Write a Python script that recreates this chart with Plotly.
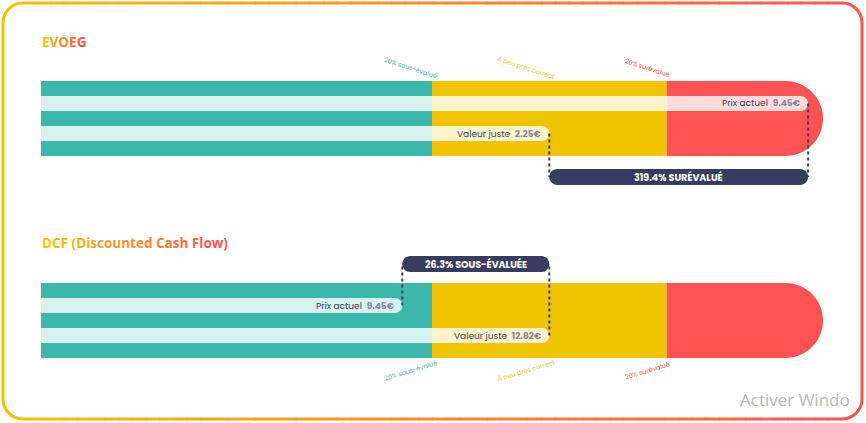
import plotly.graph_objects as go

W, H = 866, 423

# ---------------- data ----------------
chart_titles = ["EVOEG", "DCF (Discounted Cash Flow)"]
price_values = [9.45, 9.45]
fair_values = [2.25, 12.82]
gap_pct = [319.4, 26.3]
gap_words = ["SURÉVALUÉ", "SOUS-ÉVALUÉE"]
price_pos = [98.1, 46.2]     # position of current price on the gauge (0-100)
fair_pos = [65.0, 65.0]      # position of fair value on the gauge (0-100)
zone_edges = [0, 50, 80, 100]
zone_names = ["20% sous-évalué", "À peu près correct", "20% surévalué"]
zone_label_x = [47.2, 62.0, 77.5]

# ---------------- style ----------------
TEAL, YELLOW, RED = "#3BB7AB", "#F0C400", "#FF5252"
ZONE_COLORS = [TEAL, YELLOW, RED]
ZONE_TEXT = ["#3BB7AB", "#F2C53A", "#FF5252"]
NAVY = "#383C62"
LIGHT = "rgba(255,255,255,0.8)"
FONT = "Poppins, Inter, sans-serif"
K = 0.5523

X0, X1 = 41, 823            # gauge pixel extent
PXU = (X1 - X0) / 100.0     # pixels per x unit
PYU = 15.0                  # pixels per stripe unit

fig = go.Figure()

panels = [
    dict(bar_top=81, yr=(7.3, -1.8)),
    dict(bar_top=283, yr=(6.8, -2.2)),
]

def ygrad(t):
    a = (242, 195, 0)
    b = (255, 82, 82)
    return "rgb(%d,%d,%d)" % tuple(round(a[i] + (b[i] - a[i]) * t) for i in range(3))

for i, p in enumerate(panels):
    xa = "xaxis" if i == 0 else "xaxis2"
    ya = "yaxis" if i == 0 else "yaxis2"
    xr = "x" if i == 0 else "x2"
    yr = "y" if i == 0 else "y2"
    lo, hi = p["yr"]
    top_px = p["bar_top"] + hi * PYU
    bot_px = p["bar_top"] + lo * PYU
    fig.update_layout(**{
        xa: dict(domain=[X0 / W, X1 / W], range=[0, 100], visible=False, fixedrange=True),
        ya: dict(domain=[1 - bot_px / H, 1 - top_px / H], range=[lo, hi], visible=False,
                 fixedrange=True),
    })
    fig.add_trace(go.Scatter(x=[0], y=[0], mode="markers", marker=dict(opacity=0),
                             hoverinfo="skip", showlegend=False, xaxis=xr, yaxis=yr))

    # zones
    rx, ry = 37.5 / PXU, 2.5
    for z in range(3):
        a, b = zone_edges[z], zone_edges[z + 1]
        if z < 2:
            fig.add_shape(type="rect", xref=xr, yref=yr, x0=a, x1=b, y0=0, y1=5,
                          fillcolor=ZONE_COLORS[z], line_width=0, layer="below")
        else:
            path = (f"M {a},0 L {b - rx},0 C {b - rx + K * rx},0 {b},{ry - K * ry} {b},{ry} "
                    f"C {b},{ry + K * ry} {b - rx + K * rx},5 {b - rx},5 L {a},5 Z")
            fig.add_shape(type="path", xref=xr, yref=yr, path=path,
                          fillcolor=ZONE_COLORS[z], line_width=0, layer="below")

    # pills (light bands) for price (row 1) and fair value (row 3)
    prx, pry = 7.5 / PXU, 0.5
    for row, pos in ((1, price_pos[i]), (3, fair_pos[i])):
        a = row
        path = (f"M 0,{a} L {pos - prx},{a} C {pos - prx + K * prx},{a} {pos},{a + pry - K * pry} "
                f"{pos},{a + pry} C {pos},{a + pry + K * pry} {pos - prx + K * prx},{a + 1} "
                f"{pos - prx},{a + 1} L 0,{a + 1} Z")
        fig.add_shape(type="path", xref=xr, yref=yr, path=path, fillcolor=LIGHT, line_width=0)

    # pill labels
    fig.add_annotation(x=price_pos[i], y=1.5, xref=xr, yref=yr, xanchor="right", yanchor="middle",
                       xshift=-6, showarrow=False,
                       text=f"<span style='color:#3B3F5C'>Prix actuel</span>&nbsp;&nbsp;"
                            f"<b><span style='color:#8587A6'>{price_values[i]:.2f}€</span></b>",
                       font=dict(family=FONT, size=9))
    fig.add_annotation(x=fair_pos[i], y=3.5, xref=xr, yref=yr, xanchor="right", yanchor="middle",
                       xshift=-6, showarrow=False,
                       text=f"<span style='color:#3B3F5C'>Valeur juste</span>&nbsp;&nbsp;"
                            f"<b><span style='color:#8587A6'>{fair_values[i]:.2f}€</span></b>",
                       font=dict(family=FONT, size=9))

    # gap box
    over = price_values[i] > fair_values[i]
    by0, by1 = (5.87, 6.93) if over else (-1.8, -0.73)
    bx0, bx1 = min(price_pos[i], fair_pos[i]), max(price_pos[i], fair_pos[i])
    brx, bry = 8 / PXU, (by1 - by0) / 2
    ymid = (by0 + by1) / 2
    for pos, row in ((price_pos[i], 1.5), (fair_pos[i], 3.5)):
        fig.add_shape(type="line", xref=xr, yref=yr, x0=pos, x1=pos, y0=row, y1=ymid,
                      line=dict(color=NAVY, width=2, dash="dot"))
    bpath = (f"M {bx0 + brx},{by0} L {bx1 - brx},{by0} "
             f"C {bx1 - brx + K * brx},{by0} {bx1},{by0 + bry - K * bry} {bx1},{by0 + bry} "
             f"C {bx1},{by0 + bry + K * bry} {bx1 - brx + K * brx},{by1} {bx1 - brx},{by1} "
             f"L {bx0 + brx},{by1} "
             f"C {bx0 + brx - K * brx},{by1} {bx0},{by0 + bry + K * bry} {bx0},{by0 + bry} "
             f"C {bx0},{by0 + bry - K * bry} {bx0 + brx - K * brx},{by0} {bx0 + brx},{by0} Z")
    fig.add_shape(type="path", xref=xr, yref=yr, path=bpath, fillcolor=NAVY, line_width=0)
    fig.add_annotation(x=(bx0 + bx1) / 2, y=ymid, xref=xr, yref=yr, showarrow=False,
                       text=f"<b>{gap_pct[i]:.1f}% {gap_words[i]}</b>",
                       font=dict(family=FONT, size=9.5, color="white"))

    # zone labels
    ly = -0.87 if i == 0 else 5.8
    ang = 18 if i == 0 else -17
    for z in range(3):
        fig.add_annotation(x=zone_label_x[z], y=ly, xref=xr, yref=yr, showarrow=False,
                           text=zone_names[z], textangle=ang,
                           font=dict(family=FONT, size=6.5, color=ZONE_TEXT[z]))

# titles with gradient lettering
title_y = [42, 243]
for t, ty in zip(chart_titles, title_y):
    n = len(t)
    spans = "".join(
        f"<span style='color:{ygrad(j / max(n - 1, 1))}'>{ch}</span>" for j, ch in enumerate(t))
    fig.add_annotation(x=X0 / W - 0.001, y=1 - ty / H, xref="paper", yref="paper",
                       xanchor="left", yanchor="middle", showarrow=False,
                       text=f"<b>{spans}</b>",
                       font=dict(family="Open Sans, sans-serif", size=13.5))

# gradient rounded border
L, R, T, B, r = 3, 862, 3, 419, 20
BW = 3

def P(x, y):
    return f"{x / W:.5f},{1 - y / H:.5f}"

def col_at(x):
    return ygrad((x - L) / (R - L))

left = (f"M {P(L + r, T)} C {P(L + r - K * r, T)} {P(L, T + r - K * r)} {P(L, T + r)} "
        f"L {P(L, B - r)} C {P(L, B - r + K * r)} {P(L + r - K * r, B)} {P(L + r, B)}")
right = (f"M {P(R - r, T)} C {P(R - r + K * r, T)} {P(R, T + r - K * r)} {P(R, T + r)} "
         f"L {P(R, B - r)} C {P(R, B - r + K * r)} {P(R - r + K * r, B)} {P(R - r, B)}")
fig.add_shape(type="path", xref="paper", yref="paper", path=left,
              line=dict(color=col_at(L + 8), width=BW))
fig.add_shape(type="path", xref="paper", yref="paper", path=right,
              line=dict(color=col_at(R - 8), width=BW))
nseg = 60
for s in range(nseg):
    xa_ = L + r + (R - L - 2 * r) * s / nseg
    xb_ = L + r + (R - L - 2 * r) * (s + 1) / nseg
    c = col_at((xa_ + xb_) / 2)
    for yy in (T, B):
        fig.add_shape(type="line", xref="paper", yref="paper",
                      x0=(xa_ - 0.3) / W, x1=(xb_ + 0.6) / W, y0=1 - yy / H, y1=1 - yy / H,
                      line=dict(color=c, width=BW))

# OS watermark visible in the screenshot (kept inside the frame)
fig.add_annotation(x=738 / W, y=1 - 399 / H, xref="paper", yref="paper", xanchor="left",
                   yanchor="middle", showarrow=False, text="Activer Windo",
                   font=dict(family="Open Sans, sans-serif", size=17, color="rgba(160,160,160,0.75)"))

fig.update_layout(width=W, height=H, margin=dict(l=0, r=0, t=0, b=0),
                  paper_bgcolor="white", plot_bgcolor="white", showlegend=False)

fig.write_html("out.html", config={"displayModeBar": False, "staticPlot": True},
               post_script="document.body.style.margin='0px';")
